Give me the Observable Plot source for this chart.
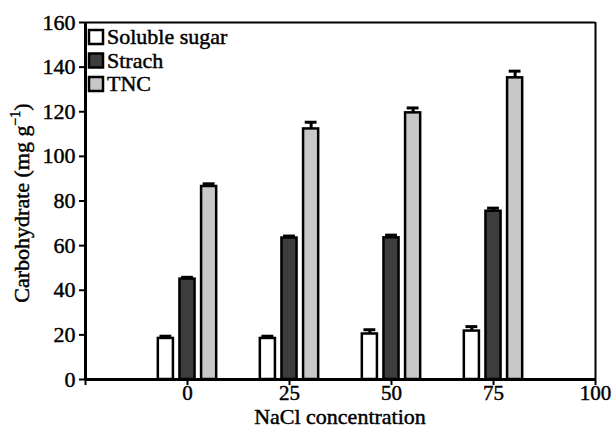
<!DOCTYPE html>
<html>
<head>
<meta charset="utf-8">
<script src="https://cdn.jsdelivr.net/npm/d3@7"></script>
<script src="https://cdn.jsdelivr.net/npm/@observablehq/plot@0.6"></script>
<style>
  html, body { margin: 0; padding: 0; background: #fff; }
  #chart svg { display: block; }
  #chart svg text { font-family: 'Liberation Serif', 'Times New Roman', serif; stroke: #000; stroke-width: 0.45px; }
</style>
</head>
<body>
<div id="chart"></div>
<script>
// ---- data ----
const concentrations = [0, 25, 50, 75];
const seriesNames = ["Soluble sugar", "Strach", "TNC"];
const solubleSugar = [18.4, 18.4, 20.4, 21.7];
const solubleSugarErr = [1.0, 1.0, 1.9, 2.0];
const starch = [45.0, 63.4, 63.5, 75.4];
const starchErr = [0.8, 0.9, 1.2, 1.4];
const tnc = [86.5, 112.3, 119.5, 135.2];
const tncErr = [1.2, 3.0, 2.2, 3.0];
const xTicks = [-25, 0, 25, 50, 75, 100];
const yTicks = [0, 20, 40, 60, 80, 100, 120, 140, 160];

// ---- styling / layout ----
const colors = ["#ffffff", "#3d3d3d", "#c8c8c8"];
const font = "'Liberation Serif', 'Times New Roman', serif";
const groupOffset = 5.3;    // x units between bars in a group
const barWidth = 3.7;       // x units
const capHalf = 1.45;       // x units

const values = [solubleSugar, starch, tnc];
const errs = [solubleSugarErr, starchErr, tncErr];
const data = concentrations.flatMap((c, i) =>
  seriesNames.map((s, j) => ({
    nacl: c, series: s, value: values[j][i], err: errs[j][i],
    cx: c + (j - 1) * groupOffset
  }))
);

const W = 614, H = 428;
const mL = 85, mR = 19, mT = 22, mB = 49;

const plot = Plot.plot({
  width: W, height: H,
  marginLeft: mL, marginRight: mR, marginTop: mT, marginBottom: mB,
  style: { fontFamily: font, fontSize: "22px", color: "#000", background: "#fff" },
  x: { domain: [-25, 100] },
  y: { domain: [0, 160] },
  color: { domain: seriesNames, range: colors },
  marks: [
    Plot.rectY(data, {
      x1: d => d.cx - barWidth / 2, x2: d => d.cx + barWidth / 2,
      y: "value", fill: "series", stroke: "#000", strokeWidth: 2.5
    }),
    Plot.ruleX(data, { x: "cx", y1: "value", y2: d => d.value + d.err, stroke: "#000", strokeWidth: 3 }),
    Plot.ruleY(data, { y: d => d.value + d.err, x1: d => d.cx - capHalf, x2: d => d.cx + capHalf, stroke: "#000", strokeWidth: 3 }),
    Plot.ruleY([160], { stroke: "#000", strokeWidth: 2 }),
    Plot.ruleX([100], { stroke: "#000", strokeWidth: 2 }),
    Plot.ruleY([0], { stroke: "#000", strokeWidth: 3 }),
    Plot.ruleX([-25], { stroke: "#000", strokeWidth: 3 }),
    Plot.axisX({ ticks: xTicks, tickFormat: d => d < 0 ? "" : String(d), tickSize: 6, tickPadding: 0, strokeWidth: 2, label: null, fontSize: 21, fontFamily: font }),
    Plot.axisY({ ticks: yTicks, tickSize: 6, tickPadding: 4, strokeWidth: 2, label: null, fontSize: 22, fontFamily: font })
  ]
});

document.getElementById("chart").appendChild(plot);

const svg = d3.select(plot);

// x axis title
svg.append("text")
  .attr("x", (mL + (W - mR)) / 2)
  .attr("y", 424)
  .attr("text-anchor", "middle")
  .attr("font-family", font)
  .attr("font-size", 22)
  .attr("fill", "#000")
  .text("NaCl concentration");

// y axis title with superscript
const yl = svg.append("text")
  .attr("transform", `translate(29,203) rotate(-90)`)
  .attr("text-anchor", "middle")
  .attr("font-family", font)
  .attr("font-size", 22)
  .attr("fill", "#000");
yl.append("tspan").text("Carbohydrate (mg g");
yl.append("tspan").attr("dy", -9).attr("font-size", 14).text("\u22121");
yl.append("tspan").attr("dy", 9).text(")");

// legend
const legend = svg.append("g").attr("text-anchor", "start");
seriesNames.forEach((s, i) => {
  const cy = 37 + i * 23.5;
  legend.append("rect")
    .attr("x", 89).attr("y", cy - 7).attr("width", 14).attr("height", 14)
    .attr("fill", colors[i]).attr("stroke", "#000").attr("stroke-width", 2.5);
  legend.append("text")
    .attr("x", 107).attr("y", cy + 7)
    .attr("text-anchor", "start")
    .attr("font-family", font).attr("font-size", 22).attr("fill", "#000")
    .text(s);
});
</script>
</body>
</html>
